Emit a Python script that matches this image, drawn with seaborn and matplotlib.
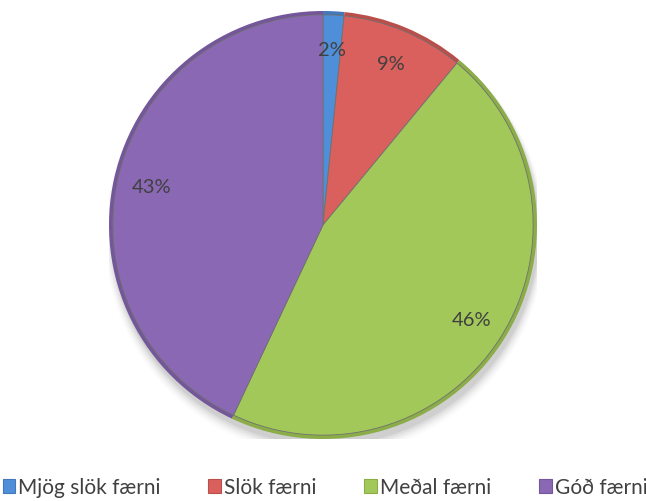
import numpy as np
import matplotlib
matplotlib.use("Agg")
import matplotlib.pyplot as plt
import seaborn as sns
from matplotlib.patches import Patch

# data
categories = ["Mjög slök færni", "Slök færni", "Meðal færni", "Góð færni"]
values = [1.6, 9.4, 46.0, 43.0]
colors = ["#4F8FD9", "#D9605C", "#A3C85A", "#8A68B4"]
rim_colors = ["#4478BB", "#B94E4A", "#8BAD48", "#74579A"]

sns.set_theme(style="white")
plt.rcParams["font.family"] = ["Lato", "DejaVu Sans"]

fig = plt.figure(figsize=(6.46, 5.02), dpi=100)
r_px = 214
cx, cy = 323, 226
ax = fig.add_axes([(cx - r_px) / 646, (502 - cy - r_px) / 502, 2 * r_px / 646, 2 * r_px / 502])

# soft shadow under the pie
for i, a in enumerate(np.linspace(0.05, 0.01, 6)):
    sh = plt.Circle((0.01, -0.03 - i * 0.004), 1.0 + i * 0.006, color="black", alpha=a, lw=0, zorder=0)
    ax.add_patch(sh)

# darker rim
ax.pie(values, colors=rim_colors, startangle=90, counterclock=False, radius=1.0,
       wedgeprops=dict(width=0.02, linewidth=0))

wedges, texts, autotexts = ax.pie(
    values, colors=colors, startangle=90, counterclock=False, radius=0.982,
    autopct=lambda p: f"{p:.0f}%", pctdistance=0.82 / 0.982,
    wedgeprops=dict(linewidth=0.6, edgecolor="#707070"),
    textprops=dict(color="#404040", fontsize=14.5),
)

ax.set_xlim(-1, 1)
ax.set_ylim(-1, 1)
ax.set_aspect("equal")
ax.axis("off")

handles = [Patch(facecolor=c, edgecolor=e, linewidth=0.8) for c, e in zip(colors, rim_colors)]
fig.legend(handles, categories, loc="center", bbox_to_anchor=(0.503, 0.027), ncol=4, frameon=False,
           fontsize=15, handlelength=0.6, handleheight=0.6, handletextpad=0.15,
           columnspacing=2.3, labelcolor="#404040")

fig.savefig("out.png", dpi=100)
